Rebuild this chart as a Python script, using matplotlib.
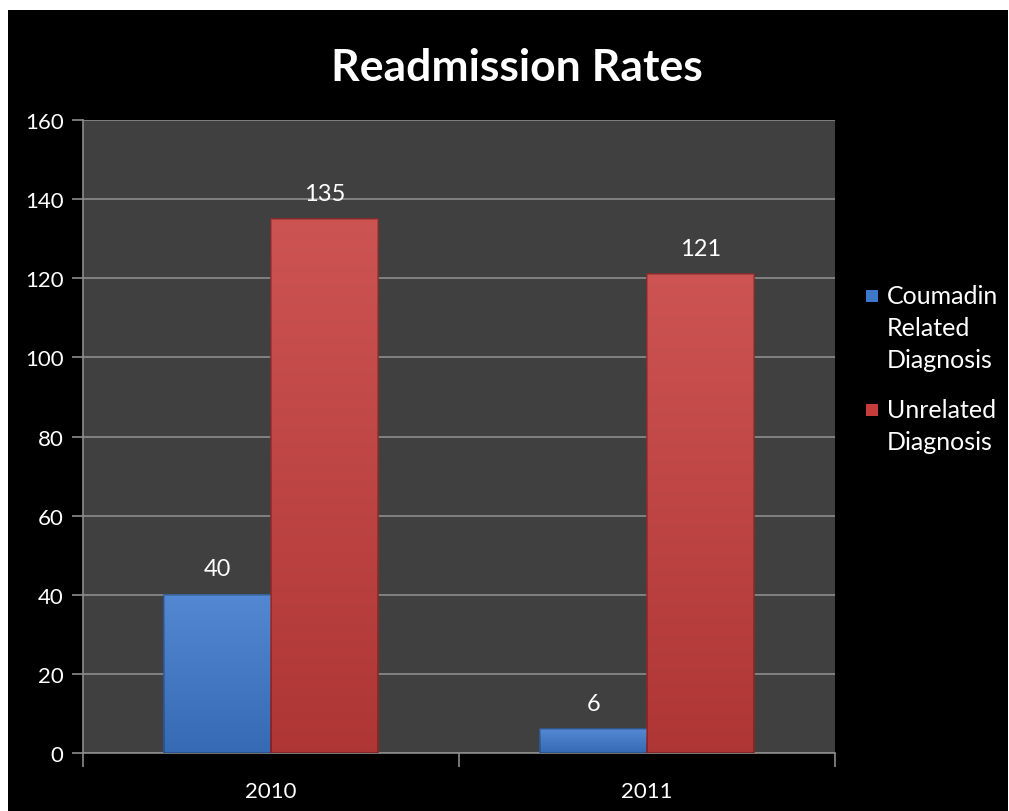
import numpy as np
import matplotlib.pyplot as plt
from matplotlib.patches import Rectangle

# data
years = ["2010", "2011"]
coumadin = [40, 6]
unrelated = [135, 121]
series_names = ["Coumadin\nRelated\nDiagnosis", "Unrelated\nDiagnosis"]
series_colors = ['#3d78cc', '#c63d3c']

plt.rcParams['font.family'] = ['Lato', 'DejaVu Sans']

W, H = 1009, 812
fig = plt.figure(figsize=(W / 100, H / 100), dpi=100)
fig.patch.set_facecolor('white')
# black chart area (white strip top / left like the original slide crop)
fig.patches.append(Rectangle((8/W, 0), 1 - 9/W, 1 - 11/H,
                             transform=fig.transFigure, facecolor='black',
                             edgecolor='none', zorder=-5))

ax = fig.add_axes([83/W, 1 - 754/H, 752/W, 633/H])
ax.set_zorder(2)
ax.set_facecolor('#404040')

x = np.arange(len(years))
w = 0.284
blue_bars = ax.bar(x - 0.143, coumadin, w, color=series_colors[0],
                   edgecolor='#2c5a9c', linewidth=1.2, zorder=3)
red_bars = ax.bar(x + 0.143, unrelated, w, color=series_colors[1],
                  edgecolor='#8e2827', linewidth=1.2, zorder=3)

# soft vertical shading on bars
grad = np.linspace(0, 1, 256).reshape(-1, 1)
for bars in [blue_bars, red_bars]:
    for b in bars:
        bx, by = b.get_x(), b.get_y()
        bw, bh = b.get_width(), b.get_height()
        im = ax.imshow(grad, extent=[bx, bx + bw, by, by + bh], aspect='auto',
                       cmap='gray', alpha=0.12, origin='lower', zorder=4)
        im.set_clip_path(b)

for bars in [blue_bars, red_bars]:
    for b in bars:
        ax.annotate(str(int(b.get_height())),
                    (b.get_x() + b.get_width() / 2, b.get_height()),
                    xytext=(0, 11), textcoords='offset points',
                    ha='center', va='bottom', color='white', fontsize=17)

ax.set_xlim(-0.5, 1.5)
ax.set_ylim(0, 160)
ax.set_yticks(range(0, 161, 20))
ax.yaxis.grid(True, color='#8c8c8c', linewidth=1.2, zorder=1)
ax.set_axisbelow(True)

ax.set_xticks([-0.5, 0.5, 1.5])
ax.set_xticklabels([])
ax.set_xticks(x, minor=True)
ax.set_xticklabels(years, minor=True)
ax.tick_params(axis='x', which='major', length=10, color='#8c8c8c', width=1.2)
ax.tick_params(axis='x', which='minor', length=0, pad=20, labelcolor='white',
               labelsize=16)
ax.tick_params(axis='y', length=8, color='#8c8c8c', width=1.2, pad=6,
               labelcolor='white', labelsize=16)

for s in ['top', 'right']:
    ax.spines[s].set_visible(False)
ax.spines['left'].set_color('#8c8c8c')
ax.spines['bottom'].set_color('#8c8c8c')
ax.spines['left'].set_linewidth(1.2)
ax.spines['bottom'].set_linewidth(1.2)

fig.text(517/W, 1 - 68/H, "Readmission Rates", ha='center', va='center',
         color='white', fontsize=32, fontweight='bold', zorder=3)

# legend drawn by hand so the marker sits next to the first line
y_line = 297
for name, col in zip(series_names, series_colors):
    fig.patches.append(Rectangle((866/W, 1 - (y_line + 6)/H), 12/W, 12/H,
                                 transform=fig.transFigure, facecolor=col,
                                 edgecolor='none', zorder=3))
    for line in name.split("\n"):
        fig.text(887/W, 1 - y_line/H, line, ha='left', va='center',
                 color='white', fontsize=18, zorder=3)
        y_line += 32
    y_line += 18

plt.savefig('out.png', dpi=100, facecolor=fig.get_facecolor())
